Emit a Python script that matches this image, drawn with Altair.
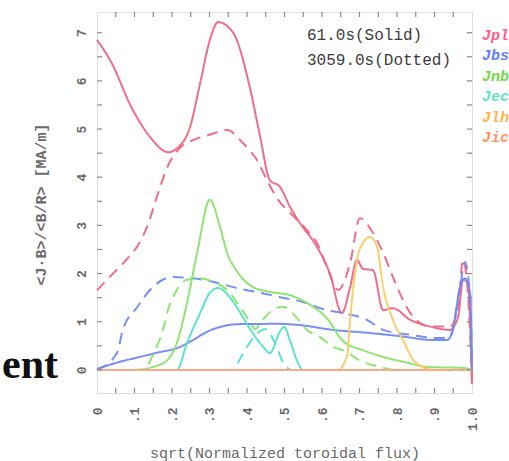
import altair as alt
import pandas as pd
import json

# ---- current density profiles: sqrt(normalized toroidal flux) vs <J.B>/<B/R> ----
# 61.0 s (solid) and 3059.0 s (dashed)

rho_jpl_61 = [0.0, 0.035, 0.096, 0.141, 0.19, 0.213, 0.248, 0.275, 0.301, 0.323, 0.363, 0.408,
              0.435, 0.461, 0.488, 0.515, 0.541, 0.587, 0.621, 0.653, 0.675, 0.693, 0.709, 0.736,
              0.763, 0.789, 0.835, 0.888, 0.941, 0.963, 0.976, 0.989, 1.0]
jpl_61 = [6.85, 6.43, 5.39, 4.84, 4.52, 4.6, 5.04, 5.95, 6.85, 7.22, 7.0, 5.85,
          4.84, 3.94, 3.8, 3.38, 3.05, 2.55, 2.0, 1.18, 1.72, 2.28, 2.1, 2.07,
          1.24, 1.28, 1.04, 0.9, 0.83, 1.1, 1.87, 1.8, -0.3]

rho_jpl_3059 = [0.0, 0.04, 0.08, 0.11, 0.135, 0.16, 0.19, 0.22, 0.26, 0.3, 0.347, 0.389,
                0.427, 0.453, 0.483, 0.515, 0.56, 0.587, 0.613, 0.643, 0.675, 0.701, 0.736,
                0.763, 0.789, 0.816, 0.843, 0.888, 0.941, 0.963, 0.976, 0.989, 1.0]
jpl_3059 = [1.65, 1.98, 2.3, 2.6, 3.0, 3.6, 4.25, 4.6, 4.78, 4.88, 4.98, 4.71,
            4.35, 3.94, 3.53, 3.26, 2.9, 2.63, 2.14, 1.66, 2.22, 3.15, 2.84,
            2.43, 1.93, 1.45, 1.1, 0.9, 0.9, 1.3, 2.28, 1.6, -0.2]

rho_jbs_61 = [0.0, 0.053, 0.115, 0.168, 0.213, 0.256, 0.293, 0.328, 0.381, 0.435, 0.461, 0.541,
              0.629, 0.72, 0.808, 0.896, 0.933, 0.949, 0.968, 0.981, 0.995, 1.0]
jbs_61 = [0.02, 0.15, 0.27, 0.37, 0.45, 0.62, 0.79, 0.89, 0.95, 0.95, 0.96, 0.93,
          0.83, 0.77, 0.7, 0.62, 0.62, 0.83, 1.72, 1.9, 1.6, 0.0]

rho_jbs_3059 = [0.0, 0.053, 0.069, 0.107, 0.149, 0.203, 0.256, 0.309, 0.373, 0.435, 0.488, 0.549,
                0.613, 0.656, 0.72, 0.763, 0.835, 0.907, 0.941, 0.968, 0.981, 0.995, 1.0]
jbs_3059 = [0.0, 0.35, 0.83, 1.3, 1.72, 1.93, 1.9, 1.83, 1.7, 1.6, 1.51, 1.41,
            1.24, 1.18, 1.04, 0.83, 0.73, 0.66, 0.68, 1.72, 2.24, 1.5, 0.0]

rho_jnb_61 = [0.0, 0.1, 0.149, 0.187, 0.213, 0.24, 0.267, 0.301, 0.328, 0.347, 0.373, 0.416,
              0.461, 0.515, 0.56, 0.613, 0.656, 0.709, 0.763, 0.827, 0.88, 0.976, 1.0]
jnb_61 = [0.0, 0.0, 0.06, 0.2, 0.56, 1.39, 2.43, 3.53, 2.97, 2.43, 2.05, 1.72,
          1.62, 1.55, 1.39, 1.07, 0.6, 0.41, 0.27, 0.15, 0.06, 0.04, 0.0]

rho_jnb_3059 = [0.0, 0.12, 0.16, 0.176, 0.187, 0.213, 0.24, 0.275, 0.309, 0.347, 0.381, 0.408,
                0.422, 0.443, 0.47, 0.496, 0.533, 0.56, 0.595, 0.629, 0.656, 0.7, 0.76, 0.8, 1.0]
jnb_3059 = [0.0, 0.0, 0.5, 0.83, 1.18, 1.66, 1.87, 1.9, 1.83, 1.66, 1.31, 1.0,
            0.85, 1.05, 1.25, 1.31, 1.08, 0.83, 0.68, 0.48, 0.41, 0.2, 0.05, 0.0, 0.0]

rho_jec_61 = [0.0, 0.213, 0.24, 0.275, 0.301, 0.323, 0.355, 0.381, 0.408, 0.443, 0.461, 0.488,
              0.499, 0.515, 0.533, 0.549, 1.0]
jec_61 = [0.0, 0.0, 0.56, 1.18, 1.6, 1.7, 1.5, 1.2, 0.85, 0.48, 0.35, 0.8,
          0.89, 0.6, 0.2, 0.0, 0.0]

rho_jec_3059 = [0.0, 0.36, 0.39, 0.42, 0.45, 0.475, 0.5, 0.52, 1.0]
jec_3059 = [0.0, 0.0, 0.35, 0.7, 0.85, 0.55, 0.1, 0.0, 0.0]

rho_jlh_61 = [0.0, 0.643, 0.667, 0.675, 0.693, 0.709, 0.728, 0.747, 0.763, 0.789, 0.816, 0.843,
              0.869, 0.9, 1.0]
jlh_61 = [0.0, 0.0, 0.3, 1.04, 2.28, 2.63, 2.76, 2.55, 1.72, 1.04, 0.62, 0.21,
          0.06, 0.0, 0.0]

rho_jlh_3059 = [0.0, 1.0]
jlh_3059 = [0.0, 0.0]

rho_jic_61 = [0.0, 1.0]
jic_61 = [0.0, 0.0]
rho_jic_3059 = [0.0, 1.0]
jic_3059 = [0.0, 0.0]

series_names = ["Jplasma", "Jbs", "Jnb", "Jec", "Jlh", "Jic"]
line_colors = ["#ef6584", "#7189f2", "#88e36c", "#52e2cc", "#f8cc62", "#ffa585"]
label_colors = ["#ff5c8a", "#5f7fff", "#6fd845", "#5fe3c3", "#ffb545", "#ff9468"]
times = ["61.0s", "3059.0s"]

x_tick_labels = ["0", ".1", ".2", ".3", ".4", ".5", ".6", ".7", ".8", ".9", "1.0"]
y_tick_labels = ["0", "1", "2", "3", "4", "5", "6", "7"]

profiles = [
    ("Jplasma", "61.0s", rho_jpl_61, jpl_61),
    ("Jplasma", "3059.0s", rho_jpl_3059, jpl_3059),
    ("Jbs", "61.0s", rho_jbs_61, jbs_61),
    ("Jbs", "3059.0s", rho_jbs_3059, jbs_3059),
    ("Jnb", "61.0s", rho_jnb_61, jnb_61),
    ("Jnb", "3059.0s", rho_jnb_3059, jnb_3059),
    ("Jec", "61.0s", rho_jec_61, jec_61),
    ("Jec", "3059.0s", rho_jec_3059, jec_3059),
    ("Jlh", "61.0s", rho_jlh_61, jlh_61),
    ("Jlh", "3059.0s", rho_jlh_3059, jlh_3059),
    ("Jic", "61.0s", rho_jic_61, jic_61),
    ("Jic", "3059.0s", rho_jic_3059, jic_3059),
]

rows = []
for name, t, xs, ys in profiles:
    for xv, yv in zip(xs, ys):
        rows.append({"rho": xv, "j": yv, "series": name, "time": t, "key": name + t})
df = pd.DataFrame(rows)

W, H = 375, 381
MONO = "Liberation Mono"
GRAY = "#6a6a6a"

x_scale = alt.Scale(domain=[0, 1], nice=False, zero=False)
y_scale = alt.Scale(domain=[-0.48, 7.43], nice=False, zero=False)

x_label_expr = "%s[round(datum.value * 10)]" % json.dumps(x_tick_labels)
y_label_expr = "%s[round(datum.value)]" % json.dumps(y_tick_labels)

x_axis = alt.Axis(values=[i / 10 for i in range(11)], labelExpr=x_label_expr,
                  labelAngle=270, labelFont=MONO, labelFontSize=13,
                  labelFontWeight="bold", labelColor=GRAY, labelPadding=14,
                  tickSize=0, ticks=False, domain=False, grid=False,
                  title="sqrt(Normalized toroidal flux)", titleFont=MONO,
                  titleFontSize=15, titleFontWeight="normal", titleColor=GRAY,
                  titleY=59, titleBaseline="middle")
y_axis = alt.Axis(values=list(range(8)), labelExpr=y_label_expr,
                  labelAngle=270, labelAlign="center", labelBaseline="middle",
                  labelFont=MONO, labelFontSize=13, labelFontWeight="bold",
                  labelColor=GRAY, labelPadding=16, tickSize=0, ticks=False, domain=False,
                  grid=False, title="<J·B>/<B/R> [MA/m]", titleFont=MONO,
                  titleFontSize=15, titleFontWeight="bold", titleColor=GRAY,
                  titleAngle=270, titleX=-57, titleY=192, titleAlign="center",
                  titleBaseline="middle")

x_enc = alt.X("rho:Q", scale=x_scale, axis=x_axis)
y_enc = alt.Y("j:Q", scale=y_scale, axis=y_axis)

lines = alt.Chart(df).mark_line(interpolate="monotone", strokeWidth=2, opacity=0.95).encode(
    x=x_enc,
    y=y_enc,
    color=alt.Color("series:N", scale=alt.Scale(domain=series_names, range=line_colors),
                    legend=None),
    strokeDash=alt.StrokeDash("time:N", scale=alt.Scale(domain=times, range=[[1, 0], [11, 7]]),
                              legend=None),
    detail="key:N",
)

# inward frame ticks, sharing the same scales/axes as the profiles
x_minor = pd.DataFrame({"rho": [i * 0.05 for i in range(1, 20)]})
y_minor = pd.DataFrame({"j": [i * 0.5 for i in range(0, 15)]})
tick_style = dict(color="#8a8a8a", strokeWidth=1.2)

ticks_bottom = alt.Chart(x_minor).mark_rule(**tick_style).encode(
    x=x_enc, y=alt.value(H - 5), y2=alt.value(H))
ticks_top = alt.Chart(x_minor).mark_rule(**tick_style).encode(
    x=x_enc, y=alt.value(0), y2=alt.value(5))
ticks_left = alt.Chart(y_minor).mark_rule(**tick_style).encode(
    y=y_enc, x=alt.value(0), x2=alt.value(5))
ticks_right = alt.Chart(y_minor).mark_rule(**tick_style).encode(
    y=y_enc, x=alt.value(W - 5), x2=alt.value(W))

# time annotation
notes = []
for i, txt in enumerate(["61.0s(Solid)", "3059.0s(Dotted)"]):
    notes.append(alt.Chart(pd.DataFrame({"s": [txt]})).mark_text(
        align="left", baseline="middle", font=MONO, fontSize=16, color="#3c3c3c").encode(
        text="s:N", x=alt.value(210), y=alt.value(23 + 25 * i)))

# coloured legend labels to the right of the frame
legend_items = []
for i, (name, col) in enumerate(zip(series_names, label_colors)):
    legend_items.append(alt.Chart(pd.DataFrame({"s": [name]})).mark_text(
        align="left", baseline="middle", font=MONO, fontSize=15, fontStyle="italic",
        fontWeight="bold", color=col).encode(
        text="s:N", x=alt.value(385), y=alt.value(23 + 20.4 * i)))

# fragment of slide heading at left
heading = alt.Chart(pd.DataFrame({"s": ["ent"]})).mark_text(
    align="right", baseline="alphabetic", font="Liberation Serif", fontSize=42,
    fontWeight="bold", color="#111111").encode(
    text="s:N", x=alt.value(-39), y=alt.value(366))

chart = alt.layer(
    lines, ticks_bottom, ticks_top, ticks_left, ticks_right, heading, *notes, *legend_items
).properties(
    width=W, height=H,
    autosize=alt.AutoSizeParams(type="none"),
    padding={"left": 97, "top": 12, "right": 37, "bottom": 68},
).configure_view(
    stroke="#8f8f8f", strokeWidth=1.6
).configure(background="white")

chart.save("out.html", embed_options={"renderer": "svg", "actions": False})
